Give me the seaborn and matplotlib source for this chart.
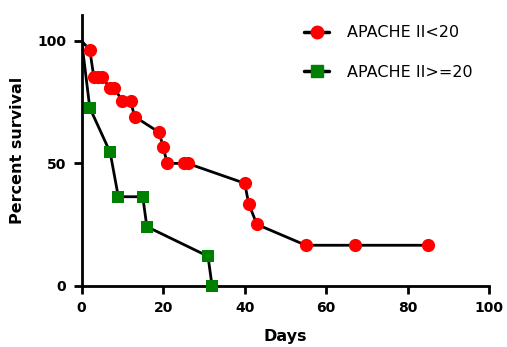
import matplotlib
matplotlib.use("Agg")
import matplotlib.pyplot as plt
from matplotlib.lines import Line2D
import pandas as pd
import seaborn as sns

# Kaplan-Meier style survival points
low_days = [0, 2, 3, 4, 5, 7, 8, 10, 12, 13, 19, 20, 21, 25, 26, 40, 41, 43, 55, 67, 85]
low_surv = [100, 96.3, 85.2, 85.2, 85.2, 80.7, 80.7, 75.5, 75.5, 69.1, 62.7, 56.7, 50.0,
            50.0, 50.0, 41.9, 33.5, 25.1, 16.6, 16.6, 16.6]
high_days = [0, 2, 7, 9, 15, 16, 31, 32]
high_surv = [100, 72.7, 54.5, 36.4, 36.4, 24.2, 12.1, 0]

labels = ["APACHE II<20", "APACHE II>=20"]
RED = "#ff0000"
GREEN = "#008000"

x_ticks = [0, 20, 40, 60, 80, 100]
y_ticks = [0, 50, 100]

sns.set_theme(style="ticks", rc={"text.color": "black", "axes.labelcolor": "black",
                                 "xtick.color": "black", "ytick.color": "black"})
plt.rcParams["font.family"] = ["DejaVu Sans"]

fig = plt.figure(figsize=(5.07, 3.47), dpi=100)
ax = fig.add_axes([0.161, 0.176, 0.804, 0.781])

low = pd.DataFrame({"day": low_days, "surv": low_surv})
high = pd.DataFrame({"day": high_days, "surv": high_surv})

for df, color, marker, ms in [(low, RED, "o", 90), (high, GREEN, "s", 70)]:
    sns.lineplot(data=df, x="day", y="surv", estimator=None, sort=False, color="black",
                 linewidth=2, ax=ax, zorder=2)
    sns.scatterplot(data=df.iloc[1:], x="day", y="surv", color=color, marker=marker, s=ms,
                    edgecolor=color, linewidth=0, ax=ax, zorder=3, clip_on=False)

ax.set_xlim(0, 100)
ax.set_ylim(0, 110.6)
ax.set_xticks(x_ticks)
ax.set_yticks(y_ticks)
for sp in ["top", "right"]:
    ax.spines[sp].set_visible(False)
for sp in ["left", "bottom"]:
    ax.spines[sp].set_linewidth(2)
    ax.spines[sp].set_color("black")
ax.tick_params(axis="both", width=2, length=6, color="black", labelsize=10, pad=5)
for t in ax.get_xticklabels() + ax.get_yticklabels():
    t.set_fontweight("bold")
ax.set_xlabel("Days", fontsize=11.5, fontweight="bold", labelpad=10)
ax.set_ylabel("Percent survival", fontsize=11.5, fontweight="bold", labelpad=9)

handles = [
    Line2D([], [], color="black", linewidth=2.5, marker="o", markersize=9,
           markerfacecolor=RED, markeredgecolor=RED),
    Line2D([], [], color="black", linewidth=2.5, marker="s", markersize=8,
           markerfacecolor=GREEN, markeredgecolor=GREEN),
]
ax.legend(handles, labels, loc="upper left", bbox_to_anchor=(0.51, 1.015), frameon=False,
          fontsize=11.5, handlelength=1.6, labelspacing=1.55, handletextpad=1.1)

fig.savefig("out.png", dpi=100)
